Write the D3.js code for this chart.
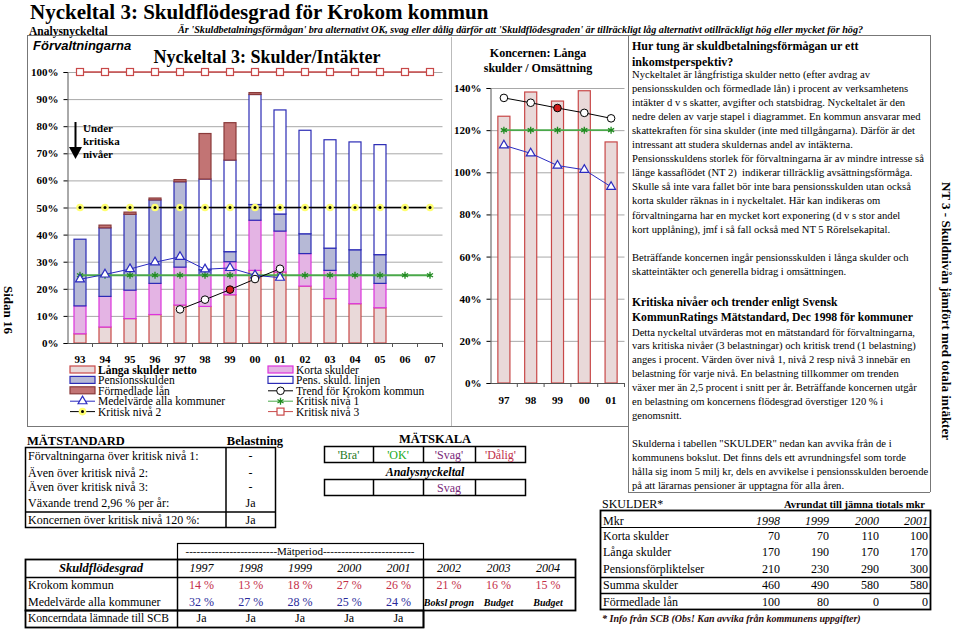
<!DOCTYPE html>
<html>
<head>
<meta charset="utf-8">
<script src="https://cdn.jsdelivr.net/npm/d3@7"></script>
<style>
  body { margin: 0; background: #fff; }
  svg { display: block; }
  text { font-family: "Liberation Serif", "Times New Roman", serif; fill: #000; }
</style>
</head>
<body>
<div id="page"></div>
<script>
// ---- data ----
const years = ["93","94","95","96","97","98","99","00","01","02","03","04","05","06","07"];
const langaSkulder  = [3.4, 5.9, 9.0, 10.5, 14.0, 13.5, 17.8, 26.8, 26.2, 21.0, 16.4, 14.5, 13.0, 0, 0];
const kortaSkulder  = [10.3, 11.3, 10.5, 11.5, 14.0, 11.5, 12.2, 18.5, 15.1, 12.0, 10.4, 10.5, 9.0, 0, 0];
const pensionsskuld = [24.6, 25.3, 28.0, 30.8, 31.5, 2.0, 3.7, 5.8, 6.3, 7.3, 8.2, 9.4, 10.6, 0, 0];
const pensLinjen    = [0, 0, 0, 0, 0, 33.5, 33.8, 40.6, 38.4, 38.2, 40.0, 39.8, 40.6, 0, 0];
const formedladeLan = [0, 1.0, 0.8, 0.7, 0.8, 16.8, 13.8, 0.7, 0, 0, 0, 0, 0, 0, 0];
const medelvarde    = [23.5, 25.3, 27.3, 29.8, 31.8, 27.2, 27.7, 25.0, 24.1, null, null, null, null, null, null];
const trendKrokom   = [null, null, null, null, 12.4, 16.0, 19.7, 23.6, 27.4, null, null, null, null, null, null];
const kritiskNiva1  = [25, 25, 25, 25, 25, 25, 25, 25, 25, 25, 25, 25, 25, 25, 25];
const kritiskNiva2  = [50, 50, 50, 50, 50, 50, 50, 50, 50, 50, 50, 50, 50, 50, 50];
const kritiskNiva3  = [100, 100, 100, 100, 100, 100, 100, 100, 100, 100, 100, 100, 100, 100, 100];
const trendMitt = "99";

const koncernYears   = ["97","98","99","00","01"];
const koncernLanga   = [126.6, 138.1, 133.8, 138.7, 114.4];
const koncernTrend   = [135.3, 133.0, 130.5, 128.2, 125.6];
const koncernMedel   = [112.8, 109.0, 103.2, 101.2, 93.1];
const koncernKritisk = [120, 120, 120, 120, 120];

const matYears   = ["1997","1998","1999","2000","2001","2002","2003","2004"];
const krokomGrad = ["14 %","13 %","18 %","27 %","26 %","21 %","16 %","15 %"];
const medelGrad  = ["32 %","27 %","28 %","25 %","24 %"];
const prognos    = ["Boksl progn","Budget","Budget"];
const koncernSCB = ["Ja","Ja","Ja","Ja","Ja"];

const standardRows = ["Förvaltningarna över kritisk nivå 1:", "Även över kritisk nivå 2:", "Även över kritisk nivå 3:", "Växande trend 2,96 % per år:", "Koncernen över kritisk nivå 120 %:"];
const belastning   = ["-", "-", "-", "Ja", "Ja"];

const skulderYears = ["1998","1999","2000","2001"];
const skulderRows  = ["Korta skulder", "Långa skulder", "Pensionsförpliktelser", "Summa skulder", "Förmedlade lån"];
const skulderMkr   = [[70, 70, 110, 100], [170, 190, 170, 170], [210, 230, 290, 300], [460, 490, 580, 580], [100, 80, 0, 0]];

// ---- styles ----
const keys = ["langa", "korta", "pension", "linjen", "formedlade"];
const fills   = {langa: "#e9d9d9", korta: "#e4b4e4", pension: "#b6b9d6", linjen: "#ffffff", formedlade: "#c27474"};
const strokes = {langa: "#c84848", korta: "#dd33dd", pension: "#2b2bb5", linjen: "#2b2bb5", formedlade: "#8a3a3a"};
const red = "#c84848", green = "#4aa84a", blue = "#2b2bc0";

const svg = d3.select("#page").append("svg").attr("width", 959).attr("height", 629);

function txt(x, y, s, o) {
  o = o || {};
  return svg.append("text").attr("x", x).attr("y", y).text(s)
    .attr("font-size", o.size || 12)
    .attr("font-weight", o.bold ? "bold" : null)
    .attr("font-style", o.italic ? "italic" : null)
    .attr("text-anchor", o.anchor || "start")
    .style("fill", o.color || "#000")
    .style("font-family", o.sans ? "'Liberation Sans', Arial, sans-serif" : null);
}
function hline(x1, x2, y, w, c) {
  svg.append("line").attr("x1", x1).attr("x2", x2).attr("y1", y).attr("y2", y)
    .attr("stroke", c || "#000").attr("stroke-width", w || 1);
}
function vline(x, y1, y2, w, c) {
  svg.append("line").attr("x1", x).attr("x2", x).attr("y1", y1).attr("y2", y2)
    .attr("stroke", c || "#000").attr("stroke-width", w || 1);
}

// ---- header ----
txt(30, 19, "Nyckeltal 3: Skuldflödesgrad för Krokom kommun", {size: 21, bold: true});
txt(29, 34.5, "Analysnyckeltal", {size: 11.5, bold: true});
txt(178, 33, "Är 'Skuldbetalningsförmågan' bra alternativt OK, svag eller dålig därför att 'Skuldflödesgraden' är tillräckligt låg alternativt otillräckligt hög eller mycket för hög?", {size: 10.2, bold: true, italic: true});

// frames
hline(27, 930, 35.5, 1, "#777");
vline(27.5, 35, 426, 1, "#777");
hline(27, 628, 426.5, 1, "#777");
vline(628.5, 35, 492, 1, "#777");
vline(930.5, 35, 492, 1, "#777");
hline(628, 930, 492.5, 1, "#777");
vline(451.5, 37, 426, 1, "#bbb");

txt(33, 50, "Förvaltningarna", {size: 13, bold: true, italic: true, sans: true});
txt(267, 63, "Nyckeltal 3: Skulder/Intäkter", {size: 18, bold: true, anchor: "middle"});

// ---- left chart ----
const x = d3.scaleBand().domain(years).range([67.5, 442.5]).paddingInner(0.52).paddingOuter(0.26);
const y = d3.scaleLinear().domain([0, 100]).range([343, 72]);
const cx = d => x(d) + x.bandwidth() / 2;

svg.append("g").selectAll("line").data(d3.range(10, 101, 10)).enter().append("line")
  .attr("x1", 67.5).attr("x2", 442.5)
  .attr("y1", d => y(d) + 0.5).attr("y2", d => y(d) + 0.5)
  .attr("stroke", "#a8a8a8");

const rows = years.map((yr, i) => ({year: yr, langa: langaSkulder[i], korta: kortaSkulder[i],
  pension: pensionsskuld[i], linjen: pensLinjen[i], formedlade: formedladeLan[i]}));
const stacked = d3.stack().keys(keys)(rows);

svg.append("g").selectAll("g").data(stacked).enter().append("g")
  .attr("fill", s => fills[s.key]).attr("stroke", s => strokes[s.key]).attr("stroke-width", 1.2)
  .selectAll("rect").data(s => s.filter(p => p[1] - p[0] > 0)).enter().append("rect")
  .attr("x", p => x(p.data.year)).attr("width", x.bandwidth())
  .attr("y", p => y(p[1])).attr("height", p => y(p[0]) - y(p[1]));

// axes
svg.append("g").attr("transform", "translate(67.5,0)")
  .call(d3.axisLeft(y).tickValues(d3.range(0, 101, 10)).tickSize(4).tickFormat(d => d + "%"))
  .call(g => g.selectAll("text").attr("font-size", 11).attr("font-weight", "bold").attr("dx", "-2")
    .style("font-family", "'Liberation Serif', serif"))
  .call(g => g.select(".domain").attr("stroke", "#555"));
svg.append("g").attr("transform", "translate(0,343)")
  .call(d3.axisBottom(x).tickSize(0).tickPadding(12))
  .call(g => g.selectAll("text").attr("font-size", 11).attr("font-weight", "bold")
    .style("font-family", "'Liberation Serif', serif"))
  .call(g => g.select(".domain").attr("stroke", "#555"));
svg.append("g").selectAll("line").data(years).enter().append("line")
  .attr("x1", (d, i) => 67.5 + (i + 1) * x.step()).attr("x2", (d, i) => 67.5 + (i + 1) * x.step())
  .attr("y1", 343).attr("y2", 347).attr("stroke", "#555");

// series lines
const lineOf = (xs, sc, vals) => d3.line().defined(d => d != null)
  .x((d, i) => xs(i)).y(d => sc(d))(vals);
const lx = i => cx(years[i]);

function drawLine(vals, color, w, xs, sc) {
  svg.append("path").attr("d", lineOf(xs, sc, vals)).attr("fill", "none")
    .attr("stroke", color).attr("stroke-width", w);
}
function markers(vals, xs, sc, kind, hl) {
  const g = svg.append("g");
  vals.forEach((v, i) => {
    if (v == null) return;
    const px = xs(i), py = sc(v);
    if (kind === "square") {
      g.append("rect").attr("x", px - 3.5).attr("y", py - 3.5).attr("width", 7).attr("height", 7)
        .attr("fill", "#fff").attr("stroke", red).attr("stroke-width", 1.2);
    } else if (kind === "dot") {
      g.append("circle").attr("cx", px).attr("cy", py).attr("r", 3.8).attr("fill", "#ffff70");
      g.append("circle").attr("cx", px).attr("cy", py).attr("r", 1.5).attr("fill", "#000");
    } else if (kind === "star") {
      g.append("path").attr("transform", `translate(${px},${py})`)
        .attr("d", d3.symbol(d3.symbolAsterisk, 34)()).attr("stroke", "#1f8a1f").attr("stroke-width", 1.3).attr("fill", "none");
    } else if (kind === "tri") {
      g.append("path").attr("transform", `translate(${px},${py})`)
        .attr("d", d3.symbol(d3.symbolTriangle, 34)()).attr("fill", "#fff").attr("stroke", blue).attr("stroke-width", 1.2);
    } else if (kind === "circle") {
      g.append("circle").attr("cx", px).attr("cy", py).attr("r", 3.8)
        .attr("fill", hl && hl(i) ? "#d01c1c" : "#fff").attr("stroke", "#000").attr("stroke-width", 1);
    }
  });
}

drawLine(kritiskNiva3, red, 1.5, lx, y);
drawLine(kritiskNiva2, "#000", 1.5, lx, y);
drawLine(kritiskNiva1, green, 1.8, lx, y);
drawLine(medelvarde, blue, 1, lx, y);
drawLine(trendKrokom, "#000", 1, lx, y);
markers(kritiskNiva3, lx, y, "square");
markers(kritiskNiva2, lx, y, "dot");
markers(kritiskNiva1, lx, y, "star");
markers(medelvarde, lx, y, "tri");
markers(trendKrokom, lx, y, "circle", i => years[i] === trendMitt);

// under kritiska nivåer arrow
vline(75.5, 122, 148, 2);
svg.append("path").attr("d", "M69,147 L82,147 L75.5,159 Z").attr("fill", "#000");
txt(83, 132, "Under", {size: 11, bold: true});
txt(83, 145, "kritiska", {size: 11, bold: true});
txt(83, 158, "nivåer", {size: 11, bold: true});

// legend
const legend = [
  {col: 0, row: 0, label: "Långa skulder netto", type: "box", key: "langa", bold: true},
  {col: 0, row: 1, label: "Pensionsskulden", type: "box", key: "pension"},
  {col: 0, row: 2, label: "Förmedlade lån", type: "box", key: "formedlade"},
  {col: 0, row: 3, label: "Medelvärde alla kommuner", type: "line", color: blue, mark: "tri"},
  {col: 0, row: 4, label: "Kritisk nivå 2", type: "line", color: "#000", mark: "dot"},
  {col: 1, row: 0, label: "Korta skulder", type: "box", key: "korta"},
  {col: 1, row: 1, label: "Pens. skuld. linjen", type: "box", key: "linjen"},
  {col: 1, row: 2, label: "Trend för Krokom kommun", type: "line", color: "#000", mark: "circle"},
  {col: 1, row: 3, label: "Kritisk nivå 1", type: "line", color: green, mark: "star"},
  {col: 1, row: 4, label: "Kritisk nivå 3", type: "line", color: red, mark: "square"}
];
legend.forEach(l => {
  const lx0 = l.col ? 268 : 70, ly = 370 + l.row * 10.4;
  if (l.type === "box") {
    svg.append("rect").attr("x", lx0).attr("y", ly - 4).attr("width", 25).attr("height", 7)
      .attr("fill", fills[l.key]).attr("stroke", strokes[l.key]).attr("stroke-width", 1.2);
  } else {
    hline(lx0, lx0 + 25, ly, 1, l.color);
    markers([0], () => lx0 + 12.5, () => ly, l.mark);
  }
  txt(lx0 + 28, ly + 4, l.label, {size: 11.5, bold: l.bold});
});

// ---- middle chart ----
txt(538, 57, "Koncernen: Långa", {size: 12, bold: true, anchor: "middle"});
txt(538, 72, "skulder / Omsättning", {size: 12, bold: true, anchor: "middle"});

const x2 = d3.scaleBand().domain(koncernYears).range([490.5, 624.5]).paddingInner(0.55).paddingOuter(0.275);
const y2 = d3.scaleLinear().domain([0, 140]).range([383, 88]);
const cx2 = i => x2(koncernYears[i]) + x2.bandwidth() / 2;

svg.append("g").selectAll("line").data(d3.range(20, 141, 20)).enter().append("line")
  .attr("x1", 490.5).attr("x2", 624.5).attr("y1", d => y2(d) + 0.5).attr("y2", d => y2(d) + 0.5)
  .attr("stroke", "#a8a8a8");
svg.append("g").selectAll("rect").data(koncernLanga).enter().append("rect")
  .attr("x", (d, i) => x2(koncernYears[i])).attr("width", x2.bandwidth())
  .attr("y", d => y2(d)).attr("height", d => y2(0) - y2(d))
  .attr("fill", fills.langa).attr("stroke", strokes.langa).attr("stroke-width", 1.2);
svg.append("g").attr("transform", "translate(490.5,0)")
  .call(d3.axisLeft(y2).tickValues(d3.range(0, 141, 20)).tickSize(4).tickFormat(d => d + "%"))
  .call(g => g.selectAll("text").attr("font-size", 11).attr("font-weight", "bold").attr("dx", "-2")
    .style("font-family", "'Liberation Serif', serif"))
  .call(g => g.select(".domain").attr("stroke", "#555"));
svg.append("g").attr("transform", "translate(0,383)")
  .call(d3.axisBottom(x2).tickSize(0).tickPadding(13))
  .call(g => g.selectAll("text").attr("font-size", 11).attr("font-weight", "bold")
    .style("font-family", "'Liberation Serif', serif"))
  .call(g => g.select(".domain").attr("stroke", "#555"));
svg.append("g").selectAll("line").data(koncernYears).enter().append("line")
  .attr("x1", (d, i) => 490.5 + (i + 1) * x2.step()).attr("x2", (d, i) => 490.5 + (i + 1) * x2.step())
  .attr("y1", 383).attr("y2", 387).attr("stroke", "#555");

drawLine(koncernKritisk, green, 1.8, cx2, y2);
drawLine(koncernMedel, blue, 1, cx2, y2);
drawLine(koncernTrend, "#000", 1, cx2, y2);
markers(koncernKritisk, cx2, y2, "star");
markers(koncernMedel, cx2, y2, "tri");
markers(koncernTrend, cx2, y2, "circle", i => koncernYears[i] === trendMitt);

// ---- right text panel ----
const tx = 632;
txt(tx, 50, "Hur tung är skuldbetalningsförmågan ur ett", {size: 12, bold: true});
txt(tx, 66, "inkomstperspektiv?", {size: 12, bold: true});
const body1 = [
  "Nyckeltalet är långfristiga skulder netto (efter avdrag av",
  "pensionsskulden och förmedlade lån) i procent av verksamhetens",
  "intäkter d v s skatter, avgifter och statsbidrag. Nyckeltalet är den",
  "nedre delen av varje stapel i diagrammet. En kommun ansvarar med",
  "skattekraften för sina skulder (inte med tillgångarna). Därför är det",
  "intressant att studera skuldernas andel av intäkterna.",
  "Pensionsskuldens storlek för förvaltningarna är av mindre intresse så",
  "länge kassaflödet (NT 2)  indikerar tillräcklig avsättningsförmåga.",
  "Skulle så inte vara fallet bör inte bara pensionsskulden utan också",
  "korta skulder räknas in i nyckeltalet. Här kan indikeras om",
  "förvaltningarna har en mycket kort exponering (d v s stor andel",
  "kort upplåning), jmf i så fall också med NT 5 Rörelsekapital.",
  "",
  "Beträffande koncernen ingår pensionsskulden i långa skulder och",
  "skatteintäkter och generella bidrag i omsättningen."
];
body1.forEach((s, i) => txt(tx, 78 + i * 14.05, s, {size: 10.6}).style("white-space", "pre"));
txt(tx, 306, "Kritiska nivåer och trender enligt Svensk", {size: 11.7, bold: true});
txt(tx, 321, "KommunRatings Mätstandard, Dec 1998 för kommuner", {size: 11.7, bold: true});
const body2 = [
  "Detta nyckeltal utvärderas mot en mätstandard för förvaltningarna,",
  "vars kritiska nivåer (3 belastningar) och kritisk trend (1 belastning)",
  "anges i procent. Värden över nivå 1, nivå 2 resp nivå 3 innebär en",
  "belastning för varje nivå. En belastning tillkommer om trenden",
  "växer mer än 2,5 procent i snitt per år. Beträffande koncernen utgår",
  "en belastning om koncernens flödesgrad överstiger 120 % i",
  "genomsnitt.",
  "",
  "Skulderna i tabellen \"SKULDER\" nedan kan avvika från de i",
  "kommunens bokslut. Det finns dels ett avrundningsfel som torde",
  "hålla sig inom 5 milj kr, dels en avvikelse i pensionsskulden beroende",
  "på att lärarnas pensioner är upptagna för alla åren."
];
body2.forEach((s, i) => txt(tx, 335.5 + i * 13.95, s, {size: 10.6}));

// side labels
svg.append("text").attr("transform", "translate(4,310) rotate(90)").attr("text-anchor", "middle")
  .attr("font-size", 13).attr("font-weight", "bold").text("Sidan 16");
svg.append("text").attr("transform", "translate(942,311) rotate(90)").attr("text-anchor", "middle")
  .attr("font-size", 13).attr("font-weight", "bold").text("NT 3 - Skuldnivån jämfört med totala intäkter");

// ---- MÄTSTANDARD ----
txt(27, 445, "MÄTSTANDARD", {size: 12.5, bold: true});
txt(255, 445, "Belastning", {size: 12.5, bold: true, anchor: "middle"});
svg.append("rect").attr("x", 25.5).attr("y", 447.5).attr("width", 250).attr("height", 80)
  .attr("fill", "none").attr("stroke", "#000").attr("stroke-width", 1.5);
vline(226, 447, 528, 1.5);
hline(25, 276, 512, 1.5);
const stdY = [460, 477, 491, 507, 524];
standardRows.forEach((s, i) => {
  txt(28, stdY[i], s, {size: 12});
  txt(250.5, stdY[i], belastning[i], {size: 12, anchor: "middle"});
});

// MÄTSKALA
txt(435, 443, "MÄTSKALA", {size: 12.5, bold: true, anchor: "middle"});
const skala = ["'Bra'", "'OK'", "'Svag'", "'Dålig'"];
const skalaColor = ["#1f7a1f", "#22aa22", "#7a2a7a", "#c0304a"];
const skalaX = [324, 373, 423, 475, 526];
[[446, 462], [479, 495]].forEach(r => {
  svg.append("rect").attr("x", 324.5).attr("y", r[0] + 0.5).attr("width", 201).attr("height", r[1] - r[0])
    .attr("fill", "none").attr("stroke", "#000").attr("stroke-width", 1.5);
  skalaX.slice(1, 4).forEach(xx => vline(xx + 0.5, r[0], r[1] + 1, 1.5));
});
skala.forEach((s, i) => txt((skalaX[i] + skalaX[i + 1]) / 2, 459, s, {size: 12, anchor: "middle", color: skalaColor[i]}));
txt(425, 476, "Analysnyckeltal", {size: 12, bold: true, italic: true, anchor: "middle"});
txt((skalaX[2] + skalaX[3]) / 2, 492, "Svag", {size: 12, anchor: "middle", color: skalaColor[2]});

// Mätperiod table
svg.append("rect").attr("x", 177.5).attr("y", 543.5).attr("width", 246).attr("height", 16)
  .attr("fill", "none").attr("stroke", "#000").attr("stroke-width", 1.2);
txt(300, 555, "-------------------------Mätperiod-------------------------", {size: 11, anchor: "middle"});
svg.append("rect").attr("x", 25.5).attr("y", 559.5).attr("width", 550).attr("height", 51)
  .attr("fill", "none").attr("stroke", "#000").attr("stroke-width", 1.8);
svg.append("rect").attr("x", 25.5).attr("y", 610.5).attr("width", 398).attr("height", 17)
  .attr("fill", "none").attr("stroke", "#000").attr("stroke-width", 1.8);
hline(25, 576, 577.5, 1.5);
vline(177.5, 559, 628, 1.5);
vline(423.5, 559, 628, 1.5);
const colX = [201.6, 250.8, 300, 349.2, 398.4, 449, 498.5, 548];
txt(101, 572, "Skuldflödesgrad", {size: 12.5, bold: true, italic: true, anchor: "middle"});
matYears.forEach((s, i) => txt(colX[i], 572, s, {size: 12, italic: true, anchor: "middle"}));
txt(28, 589, "Krokom kommun", {size: 12});
krokomGrad.forEach((s, i) => txt(colX[i], 589, s, {size: 12, anchor: "middle", color: "#c42e48"}));
txt(28, 606, "Medelvärde alla kommuner", {size: 12});
medelGrad.forEach((s, i) => txt(colX[i], 606, s, {size: 12, anchor: "middle", color: "#2a2a9a"}));
prognos.forEach((s, i) => txt(colX[5 + i], 606, s, {size: 10, bold: true, italic: true, anchor: "middle"}));
txt(28, 622, "Koncerndata lämnade till SCB", {size: 11.5});
koncernSCB.forEach((s, i) => txt(colX[i], 622, s, {size: 12, anchor: "middle"}));

// SKULDER table
txt(602, 508, "SKULDER*", {size: 12});
txt(925, 508, "Avrundat till jämna tiotals mkr", {size: 10.5, bold: true, anchor: "end"});
svg.append("rect").attr("x", 600.5).attr("y", 510.5).attr("width", 330).attr("height", 99)
  .attr("fill", "none").attr("stroke", "#000").attr("stroke-width", 1.8);
hline(600, 931, 527.5, 1.2);
hline(600, 931, 577.5, 1.5);
hline(600, 931, 593.5, 1.5);
const skX = [780, 829, 879, 928];
txt(603, 525, "Mkr", {size: 12});
skulderYears.forEach((s, i) => txt(skX[i], 525, s, {size: 12, italic: true, anchor: "end"}));
const skY = [540, 556, 573, 589, 606];
skulderRows.forEach((s, r) => {
  txt(603, skY[r], s, {size: 12});
  skulderMkr[r].forEach((v, i) => txt(skX[i], skY[r], v, {size: 12, anchor: "end"}));
});
txt(602, 622, "* Info från SCB (Obs! Kan avvika från kommunens uppgifter)", {size: 10, bold: true, italic: true, color: "#2a0a0a"});
</script>
</body>
</html>
